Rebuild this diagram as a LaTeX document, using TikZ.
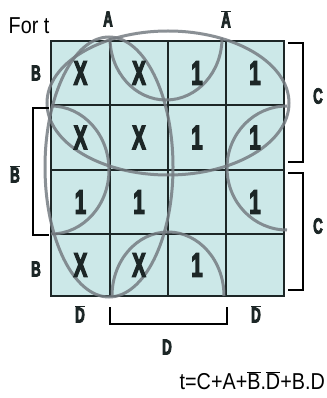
\documentclass[tikz,border=0pt]{standalone}
\usepackage{fontspec}
\setmainfont{Liberation Sans}
\newfontfamily\mapfont{Liberation Sans}[FakeStretch=0.6, FakeBold=3.5]
\newfontfamily\notefont{Liberation Sans}[FakeStretch=0.86]
\definecolor{cellfill}{RGB}{204,232,232}
\definecolor{gridline}{RGB}{28,38,38}
\definecolor{loopgray}{RGB}{118,124,130}

\begin{document}
\begin{tikzpicture}[x=1pt, y=-1pt,
  cell/.style={font=\mapfont\bfseries\fontsize{34}{34}\selectfont, text=gridline, inner sep=0pt},
  var/.style={font=\mapfont\bfseries\fontsize{22}{22}\selectfont, text=gridline, inner sep=0pt},
  note/.style={font=\notefont\fontsize{23}{23}\selectfont, inner sep=0pt},
  bracket/.style={draw, line width=1.3pt},
  loopline/.style={draw=loopgray, line width=3pt, opacity=0.85}
]
  \useasboundingbox (0,0) rectangle (326,398);

  % map
  \fill[cellfill] (51,41) rectangle (284,296);
  \draw[gridline, line width=1.8pt] (110,41) -- (110,296) (168,41) -- (168,296) (226,41) -- (226,296);
  \draw[gridline, line width=1.8pt] (51,105) -- (284,105) (51,170) -- (284,170) (51,234) -- (284,234);
  \draw[gridline, line width=2.4pt] (51,41) rectangle (284,296);

  % loops
  \draw[loopline] (168,103) ellipse [x radius=121, y radius=72];
  \draw[loopline] (109,167) ellipse [x radius=64, y radius=130];
  \draw[loopline] (110,38) arc [start angle=180, end angle=0, x radius=56, y radius=62];
  \draw[loopline] (112,296) arc [start angle=180, end angle=360, x radius=56, y radius=64];
  \draw[loopline] (51,106) arc [start angle=-90, end angle=90, x radius=58, y radius=64];
  \draw[loopline] (287,106) arc [start angle=270, end angle=90, x radius=60, y radius=62];

  % cells
  \node[cell] (c11) at (80.5,73) {X};
  \node[cell] (c12) at (139,73) {X};
  \node[cell] (c13) at (197,73) {1};
  \node[cell] (c14) at (255,73) {1};
  \node[cell] (c21) at (80.5,137.5) {X};
  \node[cell] (c22) at (139,137.5) {X};
  \node[cell] (c23) at (197,137.5) {1};
  \node[cell] (c24) at (255,137.5) {1};
  \node[cell] (c31) at (80.5,202) {1};
  \node[cell] (c32) at (139,202) {1};
  \node[cell] (c34) at (255,202) {1};
  \node[cell] (c41) at (80.5,265) {X};
  \node[cell] (c42) at (139,265) {X};
  \node[cell] (c43) at (197,265) {1};

  % variables
  \node[note] (title) at (29,26) {For t};
  \node[var] (colA) at (108,19) {A};
  \node[var] (colnA) at (226,19) {$\overline{\mbox{A}}$};
  \node[var] (rowB) at (36,73) {B};
  \node[var] (rownB) at (15,174) {$\overline{\mbox{B}}$};
  \node[var] (rowBb) at (36,269) {B};
  \node[var] (rowC) at (318,96) {C};
  \node[var] (rowCb) at (318,226) {C};
  \node[var] (colnD) at (80,314) {$\overline{\mbox{D}}$};
  \node[var] (colnDb) at (256,314) {$\overline{\mbox{D}}$};
  \node[var] (colD) at (167,347) {D};

  \draw[bracket] (49,108) -- (33,108) -- (33,235) -- (49,235);
  \draw[bracket] (288,43) -- (303,43) -- (303,162) -- (288,162);
  \draw[bracket] (288,173) -- (303,173) -- (303,290) -- (288,290);
  \draw[bracket] (110,307) -- (110,324) -- (227,324) -- (227,307);

  \node[note, anchor=east] (result) at (325,381)
    {t=C+A+$\overline{\mbox{B}}$.$\overline{\mbox{D}}$+B.D};
\end{tikzpicture}
\end{document}
